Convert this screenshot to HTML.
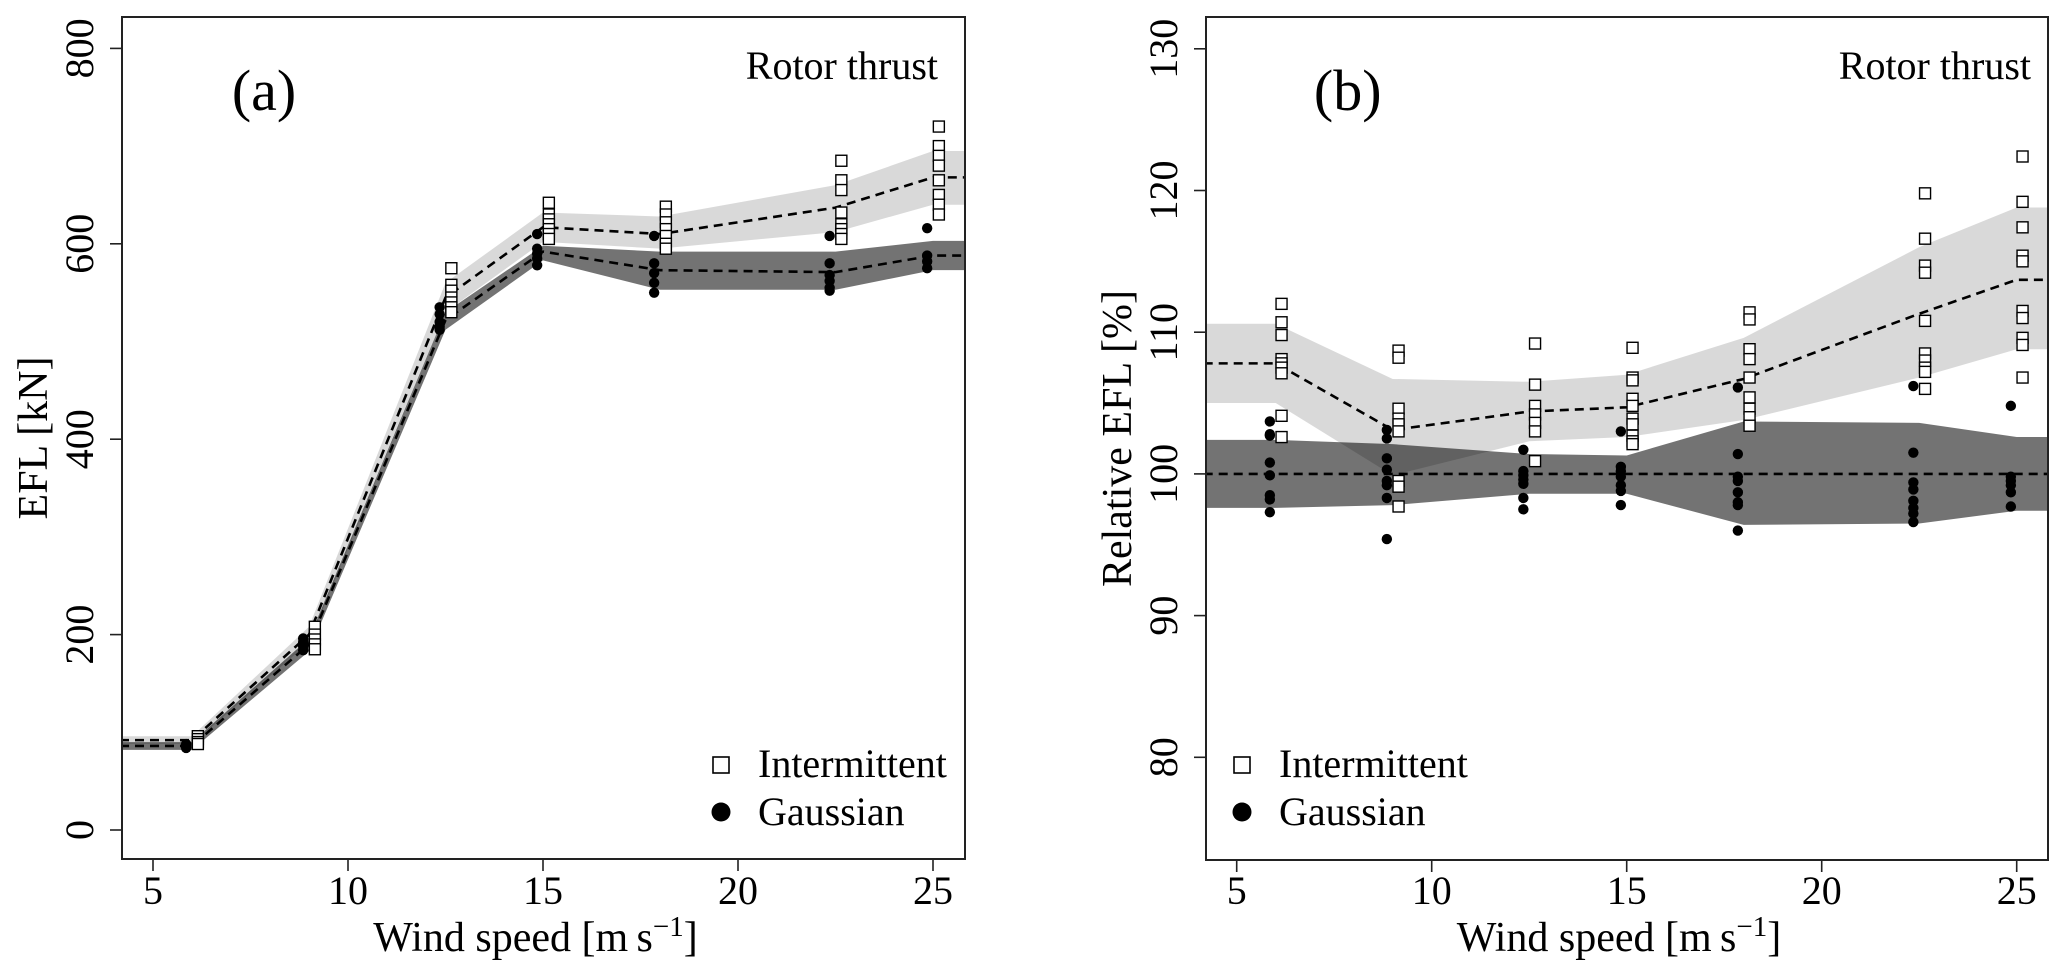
<!DOCTYPE html>
<html><head><meta charset="utf-8"><style>
html,body{margin:0;padding:0;background:#fff;}
svg{display:block;font-family:"Liberation Serif",serif;}
</style></head><body>
<svg id="fig" width="2067" height="977" viewBox="0 0 2067 977" xmlns="http://www.w3.org/2000/svg">
<defs>
<clipPath id="clipA"><rect x="122" y="17" width="843" height="842"/></clipPath>
<clipPath id="clipB"><rect x="1206" y="17" width="842" height="843"/></clipPath>
</defs>
<g id="panelA"></g>
<g id="panelB"></g>
</svg>
<script>
// Shared categories (wind speed bins)
const windSpeeds = [6, 9, 12.5, 15, 18, 22.5, 25];
const xTicks = [5, 10, 15, 20, 25];

// Panel (a) data: EFL [kN]
const aYTicks = [0, 200, 400, 600, 800];
const aIntMean = [92, 200, 545, 617, 610, 637, 668];
const aIntUpper = [96, 208, 560, 632, 628, 660, 695];
const aIntLower = [88, 192, 530, 602, 595, 612, 640];
const aGauMean = [86, 190, 522, 592, 573, 571, 588];
const aGauUpper = [90, 196, 530, 598, 592, 592, 603];
const aGauLower = [82, 183, 512, 583, 553, 553, 573];
const aIntPts = [
  [96, 93, 90, 88],
  [208, 200, 195, 190, 185],
  [575, 558, 552, 545, 540, 535, 530],
  [642, 630, 625, 620, 615, 610, 605],
  [638, 630, 622, 615, 608, 600, 595],
  [685, 665, 655, 632, 620, 615, 610, 605],
  [720, 700, 690, 680, 665, 650, 640, 630]
];
const aGauPts = [
  [88, 86, 84],
  [196, 192, 188, 184],
  [535, 528, 520, 515, 512],
  [610, 595, 590, 585, 578],
  [608, 580, 570, 560, 550],
  [608, 580, 568, 562, 555, 552],
  [616, 588, 582, 575]
];

// Panel (b) data: Relative EFL [%]
const bYTicks = [80, 90, 100, 110, 120, 130];
const bIntMean = [107.8, 103.1, 104.4, 104.7, 106.7, 111.3, 113.7];
const bIntUpper = [110.6, 106.7, 106.5, 107.0, 109.6, 116.0, 118.8];
const bIntLower = [105.0, 99.9, 102.3, 102.6, 103.8, 106.8, 108.8];
const bGauMean = [100, 100, 100, 100, 100, 100, 100];
const bGauUpper = [102.4, 102.1, 101.4, 101.3, 103.7, 103.6, 102.6];
const bGauLower = [97.6, 97.8, 98.6, 98.6, 96.4, 96.5, 97.4];
const bIntPts = [
  [112, 110.7, 109.8, 108.1, 107.8, 107.5, 107.1, 104.1, 102.6],
  [108.7, 108.2, 104.6, 103.9, 103.5, 103, 99.5, 99.1, 97.7],
  [109.2, 106.3, 104.8, 104.2, 103.6, 103, 100.9],
  [108.9, 106.8, 106.6, 105.3, 104.8, 103.9, 103.5, 102.7, 102.3, 102.1],
  [111.4, 110.9, 108.8, 108.1, 106.8, 105.4, 104.6, 104, 103.4],
  [119.8, 116.6, 114.7, 114.2, 110.8, 108.5, 108, 107.5, 107.2, 106],
  [122.4, 119.2, 117.4, 115.4, 115, 111.5, 111, 109.6, 109.1, 106.8]
];
const bGauPts = [
  [103.7, 102.8, 102.7, 100.8, 99.9, 98.5, 98.2, 97.3],
  [103.1, 102.5, 101.1, 100.3, 99.5, 99.2, 98.3, 95.4],
  [101.7, 100.2, 99.9, 99.6, 99.3, 98.3, 97.5],
  [103, 100.5, 100.2, 99.8, 99.2, 98.8, 97.8],
  [106.1, 101.4, 99.8, 99.5, 98.7, 98, 97.8, 96],
  [106.2, 101.5, 99.4, 98.9, 98.1, 97.6, 97.2, 96.6],
  [104.8, 99.8, 99.5, 99.2, 98.7, 97.7]
];

const NS = "http://www.w3.org/2000/svg";
function mk(tag, attrs, parent) {
  const e = document.createElementNS(NS, tag);
  for (const k in attrs) e.setAttribute(k, attrs[k]);
  parent.appendChild(e);
  return e;
}

function drawPanel(g, cfg) {
  const xs = v => cfg.x0 + (v - 5) * cfg.xPer;
  const ys = v => cfg.yRef + (cfg.yRefVal - v) * cfg.yPer;
  const L = cfg.left, R = cfg.right, T = cfg.top, B = cfg.bottom;
  const plot = mk("g", {"clip-path": "url(#" + cfg.clip + ")"}, g);
  
  

  function band(up, lo, fill, name) {
    const xsExt = [3].concat(windSpeeds, [28]);
    const upE = [up[0]].concat(up, [up[up.length - 1]]);
    const loE = [lo[0]].concat(lo, [lo[lo.length - 1]]);
    let pts = [];
    for (let i = 0; i < xsExt.length; i++) pts.push(xs(xsExt[i]) + "," + ys(upE[i]));
    for (let i = xsExt.length - 1; i >= 0; i--) pts.push(xs(xsExt[i]) + "," + ys(loE[i]));
    const p = mk("polygon", {points: pts.join(" "), fill: fill, stroke: "none"}, plot);
    
    
  }
  function meanLine(m, name) {
    const xsExt = [3].concat(windSpeeds);
    const mE = [m[0]].concat(m);
    const last = windSpeeds.length - 1;
    const pts = xsExt.map((v, i) => xs(v) + "," + ys(mE[i]));
    pts.push(xs(26) + "," + ys(m[last]));
    const p = mk("polyline", {points: pts.join(" "), fill: "none", stroke: "#000", "stroke-width": 2.6, "stroke-dasharray": "9 6"}, plot);
    
    
  }
  band(cfg.gU, cfg.gL, "rgba(0,0,0,0.55)", "gaussian-band");
  band(cfg.iU, cfg.iL, "rgba(0,0,0,0.15)", "intermittent-band");
  meanLine(cfg.iM, "intermittent-mean-line");
  meanLine(cfg.gM, "gaussian-mean-line");

  cfg.gP.forEach((arr, i) => arr.forEach(v => {
    const c = mk("circle", {cx: xs(windSpeeds[i] - 0.15), cy: ys(v), r: 5.2, fill: "#000"}, plot);
    
    
  }));
  cfg.iP.forEach((arr, i) => arr.forEach(v => {
    const s = mk("rect", {x: xs(windSpeeds[i] + 0.15) - 5.5, y: ys(v) - 5.5, width: 11, height: 11, fill: "#fff", stroke: "#000", "stroke-width": 1.4}, plot);
    
    
  }));

  const box = mk("rect", {x: L, y: T, width: R - L, height: B - T, fill: "none", stroke: "#222", "stroke-width": 2}, g);
  
  

  xTicks.forEach(v => {
    const t = mk("line", {x1: xs(v), x2: xs(v), y1: B, y2: B + 12, stroke: "#222", "stroke-width": 1.6}, g);
    
    
    const tx = mk("text", {x: xs(v), y: 904, "text-anchor": "middle", "font-size": 40}, g);
    tx.textContent = v;
    
    
  });
  cfg.yTicks.forEach(v => {
    const t = mk("line", {x1: L - 12, x2: L, y1: ys(v), y2: ys(v), stroke: "#222", "stroke-width": 1.6}, g);
    
    
    const lx = L - 29;
    const tx = mk("text", {x: lx, y: ys(v), "text-anchor": "middle", "font-size": 40, transform: "rotate(-90 " + lx + " " + ys(v) + ")"}, g);
    tx.textContent = v;
    
    
  });

  const xt = mk("text", {x: (L + R) / 2 - 8, y: 951, "text-anchor": "middle", "font-size": 42}, g);
  
  
  xt.innerHTML = 'Wind speed [m\u2009s<tspan dy="-15" font-size="29">\u22121</tspan><tspan dy="15">]</tspan>';

  const yx = cfg.yTitleX, yy = (T + B) / 2;
  const yt = mk("text", {x: yx, y: yy, "text-anchor": "middle", "font-size": 42, transform: "rotate(-90 " + yx + " " + yy + ")"}, g);
  yt.textContent = cfg.yTitle;
  
  

  const pl = mk("text", {x: xs(5) + 111, y: 110, "text-anchor": "middle", "font-size": 58}, g);
  pl.textContent = cfg.label;
  
  

  const rt = mk("text", {x: cfg.rtX, y: 79, "text-anchor": "end", "font-size": 40}, g);
  rt.textContent = "Rotor thrust";
  
  

  const lg = mk("g", {}, g);
  
  
  const sq = mk("rect", {x: cfg.legX - 8, y: 757, width: 16, height: 16, fill: "#fff", stroke: "#000", "stroke-width": 1.6}, lg);
  
  
  const t1 = mk("text", {x: cfg.legX + 37, y: 777, "font-size": 40}, lg);
  t1.textContent = "Intermittent";
  
  
  const dc = mk("circle", {cx: cfg.legX, cy: 812, r: 9.5, fill: "#000"}, lg);
  
  
  const t2 = mk("text", {x: cfg.legX + 37, y: 825, "font-size": 40}, lg);
  t2.textContent = "Gaussian";
  
  
}

drawPanel(document.getElementById("panelA"), {
  left: 122, right: 965, top: 17, bottom: 859, clip: "clipA",
  x0: 153, xPer: 39, yRef: 830, yRefVal: 0, yPer: 195.4 / 200,
  yTicks: aYTicks, yTitle: "EFL [kN]", yTitleX: 47, label: "(a)", rtX: 938, legX: 721,
  iM: aIntMean, iU: aIntUpper, iL: aIntLower, gM: aGauMean, gU: aGauUpper, gL: aGauLower,
  iP: aIntPts, gP: aGauPts
});
drawPanel(document.getElementById("panelB"), {
  left: 1206, right: 2048, top: 17, bottom: 860, clip: "clipB",
  x0: 1236.7, xPer: 39, yRef: 757.3, yRefVal: 80, yPer: 141.7 / 10,
  yTicks: bYTicks, yTitle: "Relative EFL [%]", yTitleX: 1131, label: "(b)", rtX: 2031, legX: 1242,
  iM: bIntMean, iU: bIntUpper, iL: bIntLower, gM: bGauMean, gU: bGauUpper, gL: bGauLower,
  iP: bIntPts, gP: bGauPts
});
</script>
</body></html>
